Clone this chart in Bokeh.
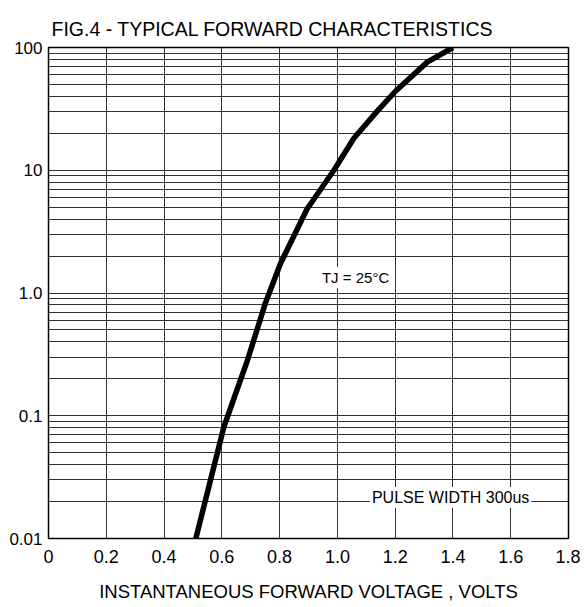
from bokeh.plotting import figure
from bokeh.models import FixedTicker, Label, Title
from bokeh.embed import file_html
from bokeh.resources import INLINE

# Data
voltage = [0.51, 0.607, 0.688, 0.751, 0.803, 0.895, 0.988, 1.057, 1.138, 1.201, 1.311, 1.40]
current = [0.01, 0.081, 0.28, 0.83, 1.74, 4.83, 10.0, 18.2, 30.3, 44.0, 76.0, 100.0]

x_ticks = [0, 0.2, 0.4, 0.6, 0.8, 1.0, 1.2, 1.4, 1.6, 1.8]
x_tick_labels = ["0", "0.2", "0.4", "0.6", "0.8", "1.0", "1.2", "1.4", "1.6", "1.8"]
y_ticks = [0.01, 0.1, 1, 10, 100]
y_tick_labels = ["0.01", "0.1", "1.0", "10", "100"]
y_minor = [m * d for d in [0.01, 0.1, 1, 10] for m in range(2, 10)]

title_text = "FIG.4 - TYPICAL FORWARD CHARACTERISTICS"
x_title = "INSTANTANEOUS FORWARD VOLTAGE , VOLTS"
note_tj = "TJ = 25°C"
note_pulse = "PULSE WIDTH 300us"

FONT = "Liberation Sans"
GRID = "#333333"

p = figure(frame_width=520, frame_height=491, output_backend="svg", toolbar_location=None,
           x_range=(0, 1.8), y_range=(0.01, 100), y_axis_type="log",
           min_border_left=48, min_border_right=12, min_border_top=47, min_border_bottom=61,
           title=None)

# the title, then a spacer between it and the frame
p.add_layout(Title(text=title_text, align="left", offset=3, standoff=12, vertical_align="top",
                   text_font=FONT, text_font_size="19.5px", text_font_style="normal",
                   text_color="black"), "above")
p.add_layout(Title(text=" ", text_font_size="1px", standoff=9, text_alpha=0), "above")

p.line(voltage, current, line_width=5.5, line_color="black", line_cap="butt", line_join="round")

p.xaxis.ticker = FixedTicker(ticks=x_ticks)
p.xaxis.major_label_overrides = {t: l for t, l in zip(x_ticks, x_tick_labels)}
p.yaxis.ticker = FixedTicker(ticks=y_ticks, minor_ticks=y_minor)
p.yaxis.major_label_overrides = {t: l for t, l in zip(y_ticks, y_tick_labels)}

for ax in (p.xaxis[0], p.yaxis[0]):
    ax.axis_line_color = None
    ax.major_tick_line_color = None
    ax.minor_tick_line_color = None
    ax.major_label_text_font = FONT
    ax.major_label_text_color = "black"

p.xaxis.major_label_text_font_size = "18px"
p.yaxis.major_label_text_font_size = "17px"
p.xaxis.major_label_standoff = 5
p.yaxis.major_label_standoff = 0

p.xaxis.axis_label = x_title
p.xaxis.axis_label_text_font = FONT
p.xaxis.axis_label_text_font_size = "18.5px"
p.xaxis.axis_label_text_font_style = "normal"
p.xaxis.axis_label_text_color = "black"
p.xaxis.axis_label_standoff = 15

p.xgrid.ticker = FixedTicker(ticks=x_ticks)
p.xgrid.grid_line_color = GRID
p.xgrid.grid_line_width = 1
p.ygrid.ticker = FixedTicker(ticks=y_ticks, minor_ticks=y_minor)
p.ygrid.grid_line_color = GRID
p.ygrid.minor_grid_line_color = GRID
p.ygrid.grid_line_width = 1
p.ygrid.minor_grid_line_width = 1

p.outline_line_color = "black"
p.outline_line_width = 1.5
p.background_fill_color = "white"
p.border_fill_color = "white"

p.add_layout(Label(x=1.063, y=1.34, text=note_tj, text_align="center", text_baseline="middle",
                   text_font=FONT, text_font_size="15px", text_color="black",
                   background_fill_color="white", padding=2))
p.add_layout(Label(x=1.392, y=0.0216, text=note_pulse, text_align="center", text_baseline="middle",
                   text_font=FONT, text_font_size="16px", text_color="black",
                   background_fill_color="white", padding=2))

open("out.html", "w").write(file_html(p, INLINE))
